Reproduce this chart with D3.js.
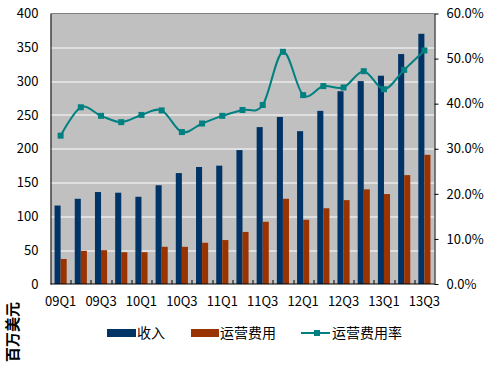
<!DOCTYPE html>
<html>
<head>
<meta charset="utf-8">
<script src="https://cdn.jsdelivr.net/npm/d3@7"></script>
<style>
    body { margin: 0; background: #fff; }
    text { font-family: "Noto Sans CJK SC", "Noto Sans", sans-serif; }
</style>
</head>
<body>
<div id="chart"></div>
<script>
const quarters = ["09Q1", "09Q2", "09Q3", "09Q4", "10Q1", "10Q2", "10Q3", "10Q4",
    "11Q1", "11Q2", "11Q3", "11Q4", "12Q1", "12Q2", "12Q3", "12Q4", "13Q1", "13Q2", "13Q3"];
const revenue = [116, 126, 136, 135, 129, 146, 164, 173, 175, 198, 232, 247, 226, 256, 285, 300, 308, 340, 370];
const opex = [37, 49, 50, 47, 47, 55, 55, 61, 65, 77, 92, 126, 95, 112, 124, 140, 133, 161, 191];
const opexRate = [32.9, 39.2, 37.3, 35.9, 37.5, 38.5, 33.7, 35.6, 37.3, 38.6, 39.7, 51.5, 41.9, 43.9, 43.6, 47.2, 43.2, 47.5, 51.8];
const leftTicks = [0, 50, 100, 150, 200, 250, 300, 350, 400];
const rightTicks = [0, 10, 20, 30, 40, 50, 60];
const seriesNames = ["收入", "运营费用", "运营费用率"];

const margin = {top: 13.5, left: 50.5},
    width = 384,
    height = 270.5;

const colors = {rev: "#003366", opex: "#993300", rate: "#008080"};

const svgRoot = d3.select("#chart").append("svg")
    .attr("width", 500)
    .attr("height", 370);

const svg = svgRoot.append("g")
    .attr("transform", "translate(" + margin.left + "," + margin.top + ")");

const x0 = d3.scaleBand()
    .domain(quarters)
    .range([0, width])
    .paddingInner(0.4)
    .paddingOuter(0.2);

const x1 = d3.scaleBand()
    .domain(["rev", "opex"])
    .range([0, x0.bandwidth()]);

const y = d3.scaleLinear().domain([0, 400]).range([height, 0]);
const y2 = d3.scaleLinear().domain([0, 60]).range([height, 0]);

// plot background
svg.append("rect")
    .attr("width", width)
    .attr("height", height)
    .attr("fill", "#c0c0c0");

// grid lines
svg.selectAll(".grid")
    .data(leftTicks.filter(d => d > 0 && d < 400))
    .enter().append("line")
    .attr("x1", 0).attr("x2", width)
    .attr("y1", d => Math.round(y(d)) + 0.5)
    .attr("y2", d => Math.round(y(d)) + 0.5)
    .attr("stroke", "#fff")
    .attr("stroke-width", 1);

// top border
svg.append("line")
    .attr("x1", 0).attr("x2", width)
    .attr("y1", 0).attr("y2", 0)
    .attr("stroke", "#808080");

// bars
const slice = svg.selectAll(".slice")
    .data(quarters.map((q, i) => ({q, values: [{key: "rev", v: revenue[i]}, {key: "opex", v: opex[i]}]})))
    .enter().append("g")
    .attr("transform", d => "translate(" + x0(d.q) + ",0)");

slice.selectAll("rect")
    .data(d => d.values)
    .enter().append("rect")
    .attr("x", d => x1(d.key))
    .attr("width", x1.bandwidth())
    .attr("y", d => y(d.v))
    .attr("height", d => height - y(d.v))
    .attr("fill", d => colors[d.key]);

// rate line
const cx = q => x0(q) + x0.bandwidth() / 2;
const line = d3.line()
    .x((d, i) => cx(quarters[i]))
    .y(d => y2(d))
    .curve(d3.curveCatmullRom.alpha(0));

svg.append("path")
    .datum(opexRate)
    .attr("d", line)
    .attr("fill", "none")
    .attr("stroke", colors.rate)
    .attr("stroke-width", 2);

svg.selectAll(".marker")
    .data(opexRate)
    .enter().append("rect")
    .attr("x", (d, i) => cx(quarters[i]) - 3)
    .attr("y", d => y2(d) - 3)
    .attr("width", 6)
    .attr("height", 6)
    .attr("fill", colors.rate);

// axes
const yAxis = d3.axisLeft(y).tickValues(leftTicks).tickSize(0).tickPadding(12);
const gy = svg.append("g").call(yAxis);
gy.select(".domain").attr("stroke", "#000");
gy.selectAll("text").style("font-size", "13px").attr("fill", "#000");

const yAxis2 = d3.axisRight(y2).tickValues(rightTicks).tickSize(4)
    .tickSizeOuter(0).tickPadding(8).tickFormat(d => d.toFixed(1) + "%");
const gy2 = svg.append("g").attr("transform", "translate(" + width + ",0)").call(yAxis2);
gy2.select(".domain").attr("stroke", "#000");
gy2.selectAll("text").style("font-size", "13px").attr("fill", "#000");

const gx = svg.append("g").attr("transform", "translate(0," + height + ")");
gx.append("line")
    .attr("x1", 0).attr("x2", width)
    .attr("stroke", "#000");
gx.selectAll(".tick")
    .data(d3.range(1, quarters.length))
    .enter().append("line")
    .attr("x1", i => Math.round(i * x0.step()) + 0.5)
    .attr("x2", i => Math.round(i * x0.step()) + 0.5)
    .attr("y1", 0).attr("y2", -4)
    .attr("stroke", "#000");
gx.selectAll(".lbl")
    .data(quarters.filter((q, i) => i % 2 === 0))
    .enter().append("text")
    .attr("x", d => cx(d))
    .attr("y", 22)
    .attr("text-anchor", "middle")
    .style("font-size", "13px")
    .text(d => d);

// y axis title
svgRoot.append("text")
    .attr("transform", "translate(18,332) rotate(-90)")
    .attr("text-anchor", "middle")
    .style("font-size", "15px")
    .style("font-weight", "bold")
    .text("百万美元");

// legend
const legend = svgRoot.append("g");
legend.append("rect").attr("x", 107).attr("y", 329).attr("width", 29).attr("height", 8).attr("fill", colors.rev);
legend.append("text").attr("x", 137).attr("y", 338).style("font-size", "14px").text(seriesNames[0]);
legend.append("rect").attr("x", 191).attr("y", 329).attr("width", 28).attr("height", 8).attr("fill", colors.opex);
legend.append("text").attr("x", 220).attr("y", 338).style("font-size", "14px").text(seriesNames[1]);
legend.append("line").attr("x1", 301).attr("x2", 330).attr("y1", 333).attr("y2", 333)
    .attr("stroke", colors.rate).attr("stroke-width", 2);
legend.append("rect").attr("x", 314).attr("y", 330).attr("width", 6).attr("height", 6).attr("fill", colors.rate);
legend.append("text").attr("x", 332).attr("y", 338).style("font-size", "14px").text(seriesNames[2]);
</script>
</body>
</html>
